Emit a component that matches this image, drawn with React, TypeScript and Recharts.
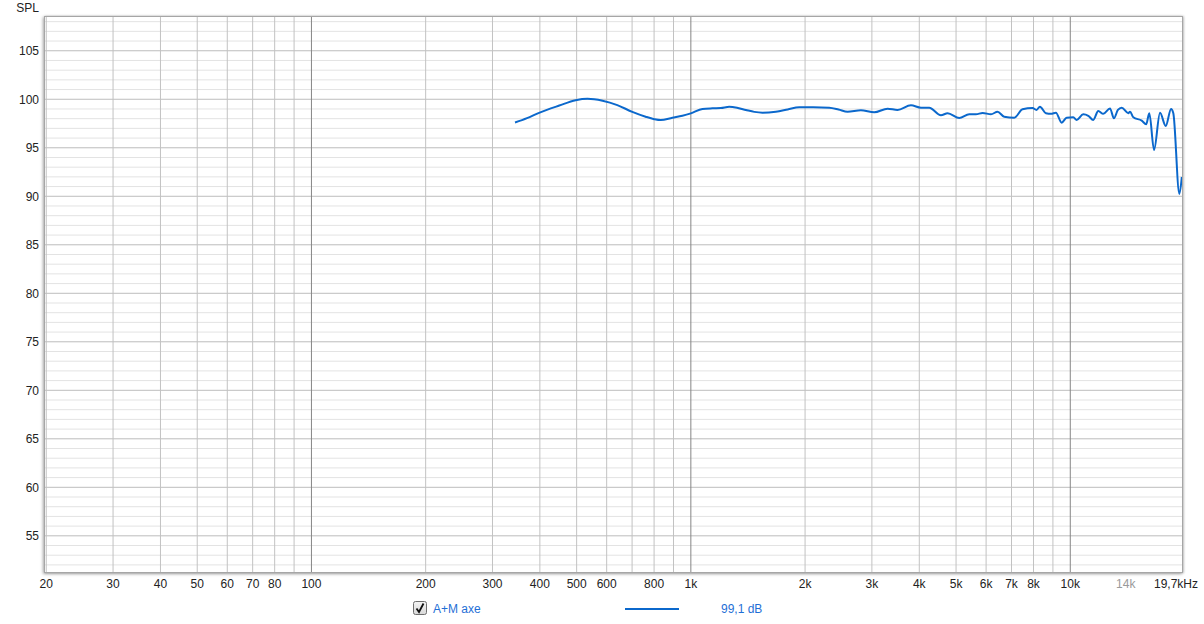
import React from "react";
import { LineChart, Line, XAxis, YAxis, ReferenceLine } from "recharts";

// Frequency response data (Hz, dB SPL)
const freqHz = [
  344, 370, 398, 450, 497, 534, 585, 640, 701, 760, 800, 833, 894, 950, 1000,
  1073, 1140, 1200, 1262, 1330, 1396, 1470, 1545, 1675, 1800, 1930, 2100, 2315,
  2450, 2588, 2806, 3043, 3300, 3505, 3803, 4040, 4249, 4561, 4750, 5099, 5416,
  5641, 5874, 6180, 6432, 6697, 7117, 7484, 7954, 8147, 8318, 8627, 8900, 9165,
  9491, 9783, 10183, 10396, 10820, 11155, 11497, 11851, 12218, 12726, 13034,
  13350, 13663, 14223, 14372, 14662, 15430, 15850, 16155, 16627, 17240, 17845,
  18436, 18690, 19385, 19680,
];
const splDb = [
  97.6, 98.05, 98.6, 99.35, 99.9, 100.05, 99.85, 99.4, 98.7, 98.2, 97.95, 97.85,
  98.1, 98.3, 98.55, 99.0, 99.07, 99.1, 99.22, 99.1, 98.9, 98.7, 98.62, 98.72,
  98.95, 99.17, 99.17, 99.13, 98.95, 98.72, 98.87, 98.66, 99.03, 98.9, 99.38,
  99.13, 99.13, 98.35, 98.56, 98.07, 98.45, 98.45, 98.59, 98.45, 98.72, 98.2,
  98.1, 98.97, 99.1, 98.9, 99.24, 98.56, 98.5, 98.62, 97.59, 98.1, 98.14, 97.87,
  98.45, 98.3, 97.87, 98.79, 98.5, 99.05, 98.04, 98.9, 99.13, 98.56, 98.72,
  98.14, 97.8, 97.42, 98.56, 94.77, 98.6, 97.25, 99.0, 98.56, 90.24, 92.0,
];

const xTickValues = [20, 30, 40, 50, 60, 70, 80, 100, 200, 300, 400, 500, 600, 800, 1000, 2000, 3000, 4000, 5000, 6000, 7000, 8000, 10000, 14000, 19700];
const xTickLabels = ["20", "30", "40", "50", "60", "70", "80", "100", "200", "300", "400", "500", "600", "800", "1k", "2k", "3k", "4k", "5k", "6k", "7k", "8k", "10k", "14k", "19,7kHz"];
const yTickValues = [55, 60, 65, 70, 75, 80, 85, 90, 95, 100, 105];

const xDomain = [19.85, 19700];
const yDomain = [51.27, 108.48];

const vGrid: number[] = [];
for (let d = 10; d <= 10000; d *= 10) {
  for (let m = 1; m <= 9; m++) {
    const v = d * m;
    if (v >= 20 && v <= 19000) vGrid.push(v);
  }
}
const hGrid: number[] = [];
for (let v = 52; v <= 108; v++) hGrid.push(v);

const data = freqHz.map((f, i) => ({ f, spl: splDb[i] }));

const FONT = "'Liberation Sans', Arial, sans-serif";
const BLUE = "#0b68cc";
const TEXT_BLUE = "#1f6fd6";

const XTick = (props: any) => {
  const { x, y, payload } = props;
  const idx = xTickValues.indexOf(payload.value);
  const label = idx >= 0 ? xTickLabels[idx] : "";
  const isLast = idx === xTickValues.length - 1;
  const isGray = payload.value === 14000;
  return (
    <text
      x={isLast ? x + 16 : x}
      y={y}
      dy="0.71em"
      textAnchor={isLast ? "end" : "middle"}
      fontFamily={FONT}
      fontSize={12}
      fill={isGray ? "#9a9a9a" : "#222"}
    >
      {label}
    </text>
  );
};

const YTick = (props: any) => {
  const { x, y, payload } = props;
  return (
    <text x={x} y={y} dy="0.355em" textAnchor="end" fontFamily={FONT} fontSize={12} fill="#222">
      {payload.value}
    </text>
  );
};

function vColor(v: number) {
  if (v === 100 || v === 1000 || v === 10000) return "#858585";
  if (v > 10000) return "#e2e2e2";
  return "#c2c2c2";
}

export default function App() {
  return (
    <div style={{ position: "absolute", left: 0, top: 0, width: 1204, height: 624, background: "#fff" }}>
      <LineChart width={1204} height={624} data={data} margin={{ top: 17, right: 22, left: 0, bottom: 0 }}>
        <XAxis
          dataKey="f"
          type="number"
          scale="log"
          domain={xDomain}
          allowDataOverflow
          ticks={xTickValues}
          interval={0}
          height={52}
          axisLine={false}
          tickLine={false}
          tickSize={0}
          tickMargin={7}
          tick={<XTick />}
        />
        <YAxis
          type="number"
          domain={yDomain}
          allowDataOverflow
          ticks={yTickValues}
          interval={0}
          width={45}
          axisLine={false}
          tickLine={false}
          tickSize={0}
          tickMargin={6}
          tick={<YTick />}
        />
        {hGrid.filter((v) => v % 5 !== 0).map((v) => (
          <ReferenceLine key={"h" + v} y={v} stroke="#e3e3e3" strokeWidth={1} />
        ))}
        {vGrid.filter((v) => v > 10000).map((v) => (
          <ReferenceLine key={"vm" + v} x={v} stroke={vColor(v)} strokeWidth={1} />
        ))}
        {hGrid.filter((v) => v % 5 === 0).map((v) => (
          <ReferenceLine key={"H" + v} y={v} stroke="#bdbdbd" strokeWidth={1} />
        ))}
        {vGrid.filter((v) => v <= 10000).map((v) => (
          <ReferenceLine key={"v" + v} x={v} stroke={vColor(v)} strokeWidth={1} />
        ))}
        <Line
          type="monotone"
          dataKey="spl"
          stroke={BLUE}
          strokeWidth={2}
          dot={false}
          isAnimationActive={false}
        />
      </LineChart>
      {/* plot frame */}
      <div
        style={{
          position: "absolute",
          left: 44,
          top: 16,
          width: 1139,
          height: 557,
          boxSizing: "border-box",
          border: "1px solid #a6a6a6",
          boxShadow: "-1px 1px 3px rgba(0,0,0,0.35), 1px 0 2px rgba(0,0,0,0.2)",
          pointerEvents: "none",
        }}
      />
      <div
        style={{
          position: "absolute",
          left: 0,
          width: 39,
          top: 1,
          textAlign: "right",
          fontFamily: FONT,
          fontSize: 12,
          lineHeight: "14px",
          color: "#222",
        }}
      >
        SPL
      </div>
      {/* legend */}
      <svg style={{ position: "absolute", left: 413, top: 601 }} width={14} height={14}>
        <defs>
          <linearGradient id="cb" x1="0" y1="0" x2="0" y2="1">
            <stop offset="0" stopColor="#f4f4f4" />
            <stop offset="1" stopColor="#d8d8d8" />
          </linearGradient>
        </defs>
        <rect x={0.5} y={0.5} width={13} height={13} rx={2} fill="url(#cb)" stroke="#6e6e6e" />
        <path d="M3.5 7.5 L6 11 L10.5 2.5" fill="none" stroke="#111" strokeWidth={1.8} />
      </svg>
      <div
        style={{
          position: "absolute",
          left: 433,
          top: 602,
          fontFamily: FONT,
          fontSize: 12,
          lineHeight: "14px",
          color: TEXT_BLUE,
        }}
      >
        A+M axe
      </div>
      <div style={{ position: "absolute", left: 625, top: 608, width: 54, height: 2, background: BLUE }} />
      <div
        style={{
          position: "absolute",
          left: 721,
          top: 602,
          fontFamily: FONT,
          fontSize: 12,
          lineHeight: "14px",
          color: TEXT_BLUE,
        }}
      >
        99,1 dB
      </div>
    </div>
  );
}
